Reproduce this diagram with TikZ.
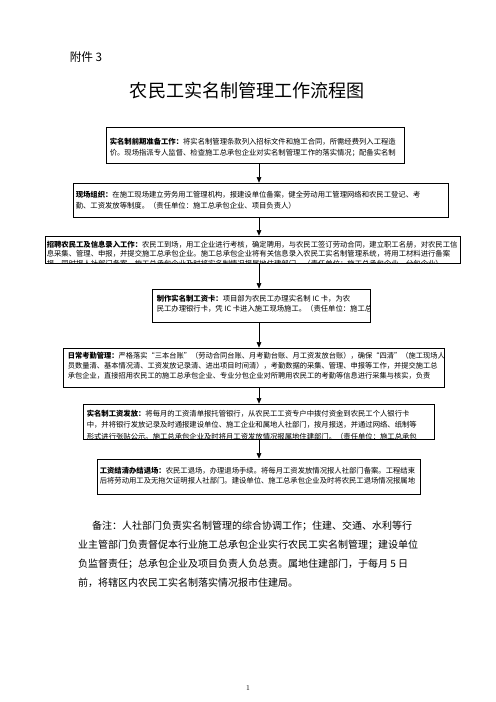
\documentclass[tikz,border=0pt]{standalone}
\usepackage{fontspec}
\newfontfamily\cjk{Noto Sans CJK SC}
\usetikzlibrary{arrows.meta,fit}

\begin{document}
\begin{tikzpicture}[x=1.2pt,y=-1.2pt,
  box/.style={draw,line width=0.9pt,inner sep=0pt},
  boxtext/.style={anchor=north west,inner sep=0pt,align=left,font=\cjk\fontsize{8.8pt}{12.5pt}\selectfont},
  flowarrow/.style={line width=0.6pt,-{Triangle[width=5.5pt,length=6.5pt]}}]
\useasboundingbox (0,0) rectangle (496,702);

\node[inner sep=0pt,font=\cjk\fontsize{14pt}{16pt}\selectfont] (annex) at (86,57) {附件 3};
\node[inner sep=0pt,font=\cjk\fontsize{21.7pt}{24pt}\selectfont] (title) at (247.5,91) {农民工实名制管理工作流程图};

% boxes
\node[box,fit={(106,127) (404,163)}] (prep) {};
\node[box,fit={(73,183) (448,217)}] (site) {};
\node[box,fit={(45,236) (460,263)}] (recruit) {};
\node[box,fit={(152,289) (370,322)}] (card) {};
\node[box,fit={(63,348) (444,387)}] (attend) {};
\node[box,fit={(83,404) (434,439)}] (pay) {};
\node[box,fit={(97,459) (420,494)}] (exit) {};

% texts, cut off at the box edges
\begin{scope}
\clip (prep.south west) rectangle (prep.north east);
\node[boxtext,font=\cjk\fontsize{8.8pt}{14pt}\selectfont] (preptext) at ([shift={(4,11)}]prep.north west) {{\bfseries 实名制前期准备工作：}将实名制管理条款列入招标文件和施工合同，所需经费列入工程造\\
价。现场指派专人监督、检查施工总承包企业对实名制管理工作的落实情况；配备实名制};
\end{scope}
\begin{scope}
\clip (site.south west) rectangle (site.north east);
\node[boxtext,font=\cjk\fontsize{8.8pt}{14pt}\selectfont] (sitetext) at ([shift={(3,8)}]site.north west) {{\bfseries 现场组织：}在施工现场建立劳务用工管理机构，报建设单位备案，健全劳动用工管理网络和农民工登记、考\\
勤、工资发放等制度。（责任单位：施工总承包企业、项目负责人）};
\end{scope}
\begin{scope}
\clip (recruit.south west) rectangle (recruit.north east);
\node[boxtext,font=\cjk\fontsize{8.8pt}{11.5pt}\selectfont] (recruittext) at ([shift={(2,5)}]recruit.north west) {{\bfseries 招聘农民工及信息录入工作：}农民工到场，用工企业进行考核，确定聘用，与农民工签订劳动合同，建立职工名册，对农民工信\\
息采集、管理、申报，并提交施工总承包企业。施工总承包企业将有关信息录入农民工实名制管理系统，将用工材料进行备案\\
报，同时报人社部门备案。施工总承包企业及时将实名制情况报属地住建部门。（责任单位：施工总承包企业、分包企业）};
\end{scope}
\begin{scope}
\clip (card.south west) rectangle (card.north east);
\node[boxtext] (cardtext) at ([shift={(5,6)}]card.north west) {{\bfseries 制作实名制工资卡：}项目部为农民工办理实名制 IC 卡，为农\\
民工办理银行卡，凭 IC 卡进入施工现场施工。（责任单位：施工总承包企业）};
\end{scope}
\begin{scope}
\clip (attend.south west) rectangle (attend.north east);
\node[boxtext,font=\cjk\fontsize{8.7pt}{12pt}\selectfont] (attendtext) at ([shift={(5,4)}]attend.north west) {{\bfseries 日常考勤管理：}严格落实“三本台账”（劳动合同台账、月考勤台账、月工资发放台账），确保“四清”（施工现场人\\
员数量清、基本情况清、工资发放记录清、进出项目时间清），考勤数据的采集、管理、申报等工作，并提交施工总\\
承包企业，直接招用农民工的施工总承包企业、专业分包企业对所聘用农民工的考勤等信息进行采集与核实，负责};
\end{scope}
\begin{scope}
\clip (pay.south west) rectangle (pay.north east);
\node[boxtext,font=\cjk\fontsize{8.8pt}{14pt}\selectfont] (paytext) at ([shift={(4,6)}]pay.north west) {{\bfseries 实名制工资发放：}将每月的工资清单报托管银行，从农民工工资专户中拨付资金到农民工个人银行卡\\
中，并将银行发放记录及时通报建设单位、施工企业和属地人社部门，按月报送，并通过网络、纸制等\\
形式进行张贴公示。施工总承包企业及时将月工资发放情况报属地住建部门。（责任单位：施工总承包};
\end{scope}
\begin{scope}
\clip (exit.south west) rectangle (exit.north east);
\node[boxtext] (exittext) at ([shift={(3,8)}]exit.north west) {{\bfseries 工资结清办结退场：}农民工退场，办理退场手续。将每月工资发放情况报人社部门备案。工程结束\\
后将劳动用工及无拖欠证明报人社部门。建设单位、施工总承包企业及时将农民工退场情况报属地};
\end{scope}

% arrows
\coordinate (ax) at (259,0);
\draw[flowarrow] (prep.south -| ax) -- (site.north -| ax);
\draw[flowarrow] (site.south -| ax) -- (recruit.north -| ax);
\draw[flowarrow] (recruit.south -| ax) -- (card.north -| ax);
\draw[flowarrow] (card.south -| ax) -- (attend.north -| ax);
\draw[flowarrow] (attend.south -| ax) -- (pay.north -| ax);
\draw[flowarrow] (pay.south -| ax) -- (exit.north -| ax);

% note
\node[anchor=north west,inner sep=0pt,align=left,font=\cjk\fontsize{12pt}{22.6pt}\selectfont] (note) at (78,521) {\hspace*{1.4em}备注：人社部门负责实名制管理的综合协调工作；住建、交通、水利等行\\
业主管部门负责督促本行业施工总承包企业实行农民工实名制管理；建设单位\\
负监督责任；总承包企业及项目负责人负总责。属地住建部门，于每月 5 日\\
前，将辖区内农民工实名制落实情况报市住建局。};

\node[inner sep=0pt,font=\fontsize{9pt}{10pt}\selectfont] (pagenum) at (248,688) {1};
\end{tikzpicture}
\end{document}
